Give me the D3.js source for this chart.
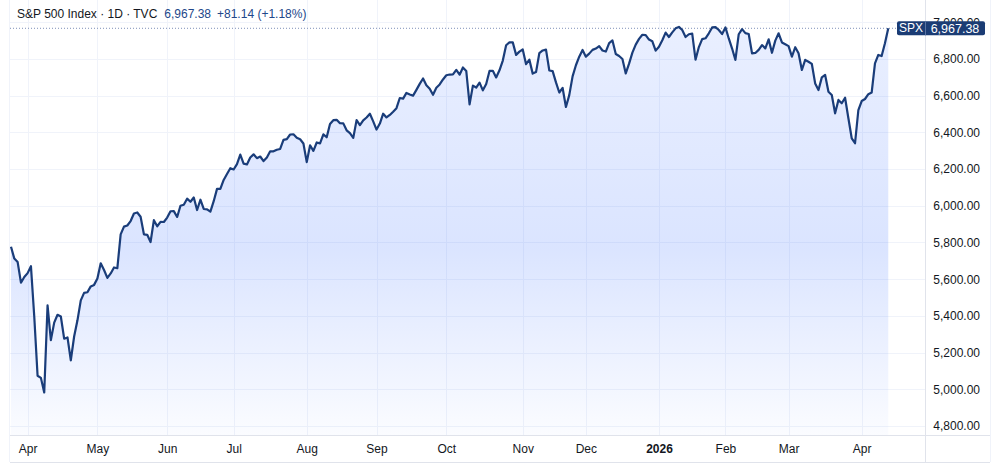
<!DOCTYPE html>
<html>
<head>
<meta charset="utf-8">
<script src="https://cdn.jsdelivr.net/npm/d3@7"></script>
<style>
  html, body { margin: 0; padding: 0; background: #ffffff; }
  svg { display: block; font-family: "Liberation Sans", Arial, sans-serif; }
</style>
</head>
<body>
<div class="chart"></div>
<script>
// Daily closes, one per trading day (25 Mar 2025 .. Apr 2026)
var closes = [
  5776.65, 5712.20, 5693.31, 5580.94, 5611.85, 5633.07, 5670.97, 5396.52, 5074.08, 5062.25,
  4982.77, 5456.90, 5268.05, 5363.36, 5405.97, 5396.63, 5275.70, 5282.70, 5158.20, 5287.76,
  5375.86, 5484.77, 5525.21, 5528.75, 5560.83, 5569.06, 5604.14, 5686.67, 5650.38, 5606.91,
  5631.28, 5663.94, 5659.91, 5844.19, 5886.55, 5892.58, 5916.93, 5958.38, 5963.60, 5940.46,
  5844.61, 5842.01, 5802.82, 5921.54, 5888.55, 5912.17, 5911.69, 5935.94, 5970.37, 5970.81,
  5939.30, 6000.36, 6005.88, 6038.81, 6022.24, 6045.26, 5976.97, 6033.11, 5982.72, 5980.87,
  5967.84, 6025.17, 6092.18, 6092.16, 6141.02, 6173.07, 6204.95, 6198.01, 6227.42, 6279.35,
  6229.98, 6225.52, 6263.26, 6280.46, 6259.75, 6268.56, 6243.76, 6263.70, 6297.36, 6296.79,
  6305.60, 6309.62, 6358.91, 6363.35, 6388.64, 6389.77, 6370.86, 6362.90, 6339.39, 6238.01,
  6329.94, 6299.19, 6345.06, 6340.00, 6389.45, 6373.45, 6445.76, 6466.58, 6468.54, 6449.80,
  6449.15, 6411.37, 6395.78, 6370.17, 6466.91, 6439.32, 6465.94, 6481.40, 6501.86, 6460.26,
  6415.54, 6448.26, 6502.08, 6481.50, 6495.15, 6512.61, 6532.04, 6587.47, 6584.29, 6615.28,
  6606.76, 6600.35, 6631.96, 6664.36, 6693.75, 6656.92, 6637.97, 6604.72, 6643.70, 6661.21,
  6688.46, 6711.20, 6715.35, 6715.79, 6740.28, 6714.59, 6753.72, 6735.11, 6552.51, 6654.72,
  6644.31, 6671.06, 6629.07, 6664.01, 6735.13, 6735.35, 6699.40, 6738.44, 6791.69, 6875.16,
  6890.89, 6890.59, 6822.34, 6840.20, 6851.97, 6771.55, 6796.29, 6720.32, 6728.80, 6832.43,
  6846.61, 6850.92, 6737.49, 6734.11, 6672.41, 6617.32, 6642.16, 6538.76, 6602.99, 6705.12,
  6765.88, 6812.61, 6849.09, 6812.63, 6829.37, 6849.72, 6857.12, 6870.40, 6846.51, 6840.51,
  6886.68, 6901.00, 6827.41, 6816.51, 6800.26, 6721.43, 6774.76, 6834.50, 6878.49, 6909.79,
  6932.05, 6929.94, 6905.74, 6896.24, 6845.50, 6867, 6902, 6944, 6920, 6945,
  6967, 6975, 6958, 6920, 6935, 6938, 6796, 6865, 6908, 6913,
  6940, 6972, 6974, 6958, 6936, 6972, 6912, 6857, 6795, 6935,
  6963, 6941, 6936, 6831, 6833, 6850, 6876, 6858, 6907, 6834,
  6900, 6940, 6890, 6880, 6870, 6813, 6864, 6831, 6740, 6795,
  6785, 6773, 6667, 6631, 6700, 6713, 6622, 6604, 6504, 6577,
  6559, 6589, 6477, 6368, 6341, 6522, 6571, 6582, 6608, 6617,
  6776, 6822, 6816, 6886, 6967.38
];

// month starts, as trading-day index into closes
var monthIdx = [5, 26, 47, 67, 89, 110, 131, 154, 173, 195, 215, 234, 256];
var monthLabels = ["Apr", "May", "Jun", "Jul", "Aug", "Sep", "Oct", "Nov", "Dec", "2026", "Feb", "Mar", "Apr"];

var priceTicks = [4800, 5000, 5200, 5400, 5600, 5800, 6000, 6200, 6400, 6600, 6800, 7000];

var lastClose = 6967.38,
    change = 81.14,
    changePct = 1.18;

// layout
var width = 1000, height = 465;
var paneLeft = 10, paneRight = 925, paneBottom = 435, outerRight = 990, outerBottom = 462;
var lineColour = "#1a3d7a";
var gridColour = "#f0f3fa";
var borderColour = "#e0e3eb";
var textColour = "#131722";

var x = d3.scaleLinear()
    .domain([0, closes.length - 1])
    .range([11, 11 + (closes.length - 1) * 3.323]);

var y = d3.scaleLinear()
    .domain([4800, 7000])
    .range([426, 22.3]);

var svg = d3.select(".chart").append("svg")
    .attr("width", width)
    .attr("height", height);

var defs = svg.append("defs");
var grad = defs.append("linearGradient")
    .attr("id", "fillGrad")
    .attr("gradientUnits", "userSpaceOnUse")
    .attr("x1", 0).attr("y1", 20)
    .attr("x2", 0).attr("y2", paneBottom);
grad.append("stop").attr("offset", "0%").attr("stop-color", "rgb(41,98,255)").attr("stop-opacity", 0.10);
grad.append("stop").attr("offset", "55%").attr("stop-color", "rgb(41,98,255)").attr("stop-opacity", 0.17);
grad.append("stop").attr("offset", "100%").attr("stop-color", "rgb(41,98,255)").attr("stop-opacity", 0.02);

// only the top part of the 7,000 label peeks out above the price tag
defs.append("clipPath").attr("id", "axisClip")
    .append("rect")
    .attr("x", paneRight).attr("y", 0)
    .attr("width", 80).attr("height", 465);

// grid
svg.append("g").selectAll("line")
    .data(priceTicks)
    .enter().append("line")
    .attr("x1", paneLeft).attr("x2", paneRight)
    .attr("y1", function(d) { return Math.round(y(d)) + 0.5; })
    .attr("y2", function(d) { return Math.round(y(d)) + 0.5; })
    .style("stroke", gridColour);

svg.append("g").selectAll("line")
    .data(monthIdx)
    .enter().append("line")
    .attr("x1", function(d) { return Math.round(x(d)) + 0.5; })
    .attr("x2", function(d) { return Math.round(x(d)) + 0.5; })
    .attr("y1", 0).attr("y2", paneBottom)
    .style("stroke", gridColour);

// area + line
var area = d3.area()
    .x(function(d, i) { return x(i); })
    .y0(paneBottom)
    .y1(function(d) { return y(d); });

var line = d3.line()
    .x(function(d, i) { return x(i); })
    .y(function(d) { return y(d); });

svg.append("path")
    .datum(closes)
    .attr("d", area)
    .style("fill", "url(#fillGrad)");

// last price dotted line
svg.append("line")
    .attr("x1", paneLeft).attr("x2", paneRight)
    .attr("y1", y(lastClose)).attr("y2", y(lastClose))
    .style("stroke", "#7d8fb8")
    .style("stroke-width", 1)
    .style("stroke-dasharray", "1,2");

svg.append("path")
    .datum(closes)
    .attr("d", line)
    .style("fill", "none")
    .style("stroke", lineColour)
    .style("stroke-width", 2.2)
    .style("stroke-linejoin", "round");

// borders
svg.append("line").attr("x1", paneRight + 0.5).attr("x2", paneRight + 0.5)
    .attr("y1", 0).attr("y2", outerBottom).style("stroke", borderColour);
svg.append("line").attr("x1", paneLeft - 0.5).attr("x2", paneLeft - 0.5)
    .attr("y1", 0).attr("y2", outerBottom).style("stroke", gridColour);
svg.append("line").attr("x1", outerRight + 0.5).attr("x2", outerRight + 0.5)
    .attr("y1", 0).attr("y2", outerBottom).style("stroke", gridColour);
svg.append("line").attr("x1", paneLeft).attr("x2", outerRight)
    .attr("y1", paneBottom + 0.5).attr("y2", paneBottom + 0.5).style("stroke", borderColour);
svg.append("line").attr("x1", paneLeft).attr("x2", outerRight)
    .attr("y1", outerBottom + 0.5).attr("y2", outerBottom + 0.5).style("stroke", borderColour);

// price axis
var yAxis = d3.axisRight(y)
    .tickValues(priceTicks)
    .tickSize(0)
    .tickFormat(d3.format(",.2f"));

var yg = svg.append("g")
    .attr("transform", "translate(" + paneRight + ",0)")
    .call(yAxis);
yg.select(".domain").remove();
yg.selectAll("text")
    .attr("x", 55)
    .attr("text-anchor", "end")
    .style("font-family", "Liberation Sans, Arial, sans-serif")
    .style("font-size", "12px")
    .style("fill", textColour);

// time axis
var xAxis = d3.axisBottom(x)
    .tickValues(monthIdx)
    .tickSize(0)
    .tickFormat(function(d, i) { return monthLabels[i]; });

var xg = svg.append("g")
    .attr("transform", "translate(0," + paneBottom + ")")
    .call(xAxis);
xg.select(".domain").remove();
xg.selectAll("text")
    .attr("y", 14)
    .attr("dy", "0.32em")
    .style("font-family", "Liberation Sans, Arial, sans-serif")
    .style("font-size", "12px")
    .style("fill", textColour)
    .style("font-weight", function(d, i) { return monthLabels[i] === "2026" ? "bold" : "normal"; });

// last price tag
var fmt = d3.format(",.2f");
var ly = y(lastClose);
svg.append("rect")
    .attr("x", 897).attr("y", ly - 7)
    .attr("width", 88).attr("height", 14)
    .attr("rx", 2)
    .style("fill", "#1b3c74");
svg.append("line")
    .attr("x1", paneRight + 0.5).attr("x2", paneRight + 0.5)
    .attr("y1", ly - 7).attr("y2", ly + 7)
    .style("stroke", "#5a74a3");
svg.append("text")
    .attr("x", 911).attr("y", ly)
    .attr("dy", "0.35em")
    .attr("text-anchor", "middle")
    .style("font-size", "12px")
    .style("fill", "#ffffff")
    .text("SPX");
svg.append("text")
    .attr("x", 955).attr("y", ly)
    .attr("dy", "0.35em")
    .attr("text-anchor", "middle")
    .style("font-size", "12.5px")
    .style("fill", "#ffffff")
    .text(fmt(lastClose));

// legend / title
var title = svg.append("text")
    .attr("x", 17).attr("y", 18)
    .style("font-size", "12px");
title.append("tspan")
    .style("fill", textColour)
    .text("S&P 500 Index \u00b7 1D \u00b7 TVC");
title.append("tspan")
    .attr("dx", 7)
    .style("fill", "#22478a")
    .text(fmt(lastClose));
title.append("tspan")
    .attr("dx", 6)
    .style("fill", "#22478a")
    .text("+" + fmt(change) + " (+" + changePct.toFixed(2) + "%)");
</script>
</body>
</html>
